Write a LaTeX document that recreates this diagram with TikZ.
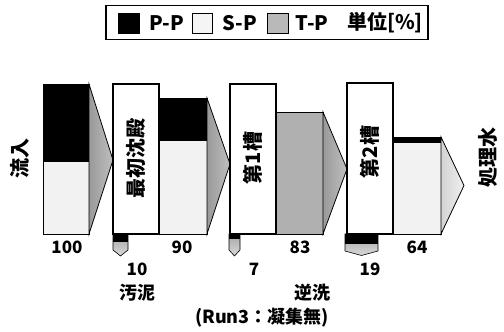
\documentclass[tikz,border=0pt]{standalone}
\usepackage{fontspec}
\setmainfont{Noto Sans CJK JP}
\usetikzlibrary{shadings}
\tikzset{
  lbl/.style={font=\bfseries\fontsize{17}{17}\selectfont, inner sep=0pt},
  jlbl/.style={font=\bfseries\fontsize{18}{18}\selectfont, inner sep=0pt},
  vlbl/.style={font=\bfseries\fontsize{20}{20}\selectfont, inner sep=0pt, rotate=90},
  legtxt/.style={font=\bfseries\fontsize{20}{20}\selectfont, inner sep=0pt},
  unitbox/.style={draw=black, line width=1.4pt, fill=white},
  barline/.style={draw=black, line width=0.8pt},
  pp/.style={fill=black},
  sp/.style={fill=gray!10},
  tp/.style={left color=gray!62, middle color=gray!40, right color=gray!62},
  headdark/.style={barline, left color=gray!80, right color=gray!50},
  headlight/.style={barline, left color=gray!35, right color=gray!12},
  sludge/.style={draw=black, line width=0.6pt, top color=gray!70, bottom color=gray!30},
}
\begin{document}
\begin{tikzpicture}[x=1pt,y=-1pt]
\useasboundingbox (0,0) rectangle (504,332);
% legend
\node[draw=black, line width=1.8pt, minimum width=322pt, minimum height=34pt, inner sep=0pt] (leg) at (267,22.5) {};
\node[fill=black, draw=black, minimum width=21pt, minimum height=20pt, inner sep=0pt] (kpp) at (129,23) {};
\node[legtxt] (tpp) at (167,23) {P-P};
\node[fill=gray!8, draw=black, line width=0.8pt, minimum width=20pt, minimum height=20pt, inner sep=0pt] (ksp) at (202.5,23) {};
\node[legtxt] (tsp) at (240,23) {S-P};
\node[fill=gray!55, draw=black, line width=0.8pt, minimum width=21pt, minimum height=20pt, inner sep=0pt] (ktp) at (278,23) {};
\node[legtxt] (ttp) at (312,23) {T-P};
\node[legtxt] (tunit) at (385,23) {単位[\%]};

% inflow bar (100)
\path[pp] (43,84) rectangle (89,162);
\path[sp] (43,162) rectangle (89,234);
\draw[barline] (43,84) rectangle (89,234);
\draw[headdark] (89,84) -- (113,160) -- (89,234) -- cycle;

% box 1
\node[unitbox, minimum width=46pt, minimum height=150pt, inner sep=0pt] (b1) at (136,159) {};
\node[vlbl] (t1) at (136,158) {最初沈殿};

% bar 90
\path[pp] (159,98) rectangle (207,141);
\path[sp] (159,141) rectangle (207,234);
\draw[barline] (159,98) rectangle (207,234);
\draw[headdark] (207,98) -- (230,164) -- (207,234) -- cycle;

% box 2
\node[unitbox, minimum width=46pt, minimum height=150pt, inner sep=0pt] (b2) at (253,159) {};
\node[vlbl] (t2) at (253,158) {第1槽};

% bar 83
\path[tp] (276,112) rectangle (323,234);
\draw[barline] (276,112) rectangle (323,234);
\draw[headdark] (323,112) -- (347,169) -- (323,234) -- cycle;

% box 3
\node[unitbox, minimum width=46pt, minimum height=151pt, inner sep=0pt] (b3) at (370,158.5) {};
\node[vlbl] (t3) at (370,152) {第2槽};

% bar 64
\path[pp] (393,137) rectangle (441,143);
\path[sp] (393,143) rectangle (441,234);
\draw[barline] (393,137) rectangle (441,234);
\draw[headlight] (441,137) -- (464,185.5) -- (441,234) -- cycle;

% sludge arrows
\draw[sludge] (113,234) -- (128,234) -- (128,250) -- (120.5,256) -- (113,250) -- cycle;
\path[fill=black] (113,234) rectangle (128,242);
\draw[sludge] (229,234) -- (240,234) -- (240,250) -- (234.5,256) -- (229,250) -- cycle;
\path[fill=black] (229,234) rectangle (240,239);
\draw[sludge] (345,234) -- (378,234) -- (378,251) -- (361.5,255.5) -- (345,251) -- cycle;
\path[fill=black] (345,234) rectangle (378,244);

% side labels
\node[vlbl] (tin) at (20,158) {流入};
\node[vlbl] (tout) at (488,157) {処理水};

% numbers
\node[lbl] (n100) at (67,247) {100};
\node[lbl] (n90) at (182,247) {90};
\node[lbl] (n83) at (300,247) {83};
\node[lbl] (n64) at (417,247) {64};
\node[lbl] (n10) at (137,269) {10};
\node[lbl] (n7) at (254,269) {7};
\node[lbl] (n19) at (370,269) {19};
\node[jlbl] (osei) at (137,293) {汚泥};
\node[jlbl] (gyak) at (312,293) {逆洗};
\node[jlbl] (run) at (262,318) {(Run3：凝集無)};
\end{tikzpicture}
\end{document}
